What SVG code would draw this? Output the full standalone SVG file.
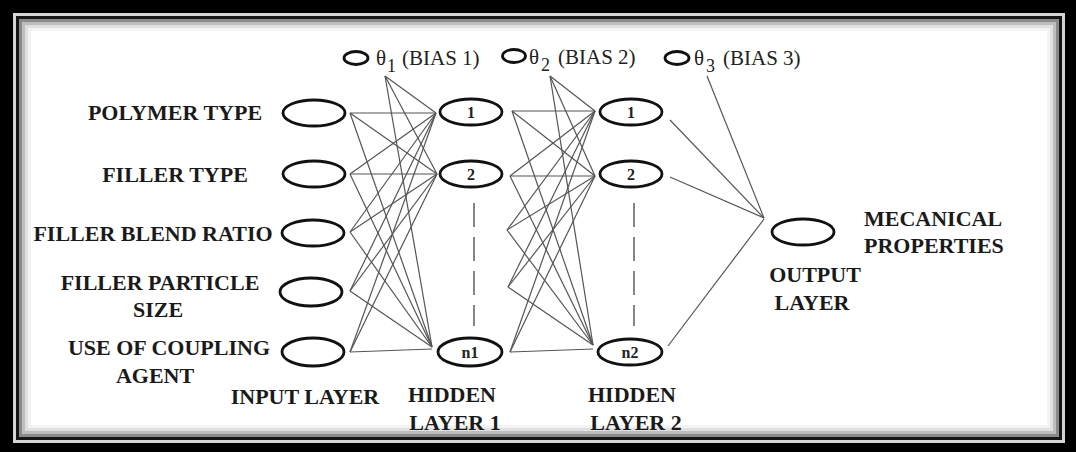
<svg xmlns="http://www.w3.org/2000/svg" width="1076" height="452" viewBox="0 0 1076 452">
<style>
.lbl{font-family:"Liberation Serif","Times New Roman",serif;font-weight:bold;font-size:22px;fill:#1a1a1a}
.bias{font-family:"Liberation Serif","Times New Roman",serif;font-size:21px;fill:#222}
.sub{font-family:"Liberation Serif","Times New Roman",serif;font-size:18px;fill:#222}
.num{font-family:"Liberation Serif","Times New Roman",serif;font-weight:bold;font-size:16px;fill:#222;text-anchor:middle}
.node{fill:none;stroke:#111;stroke-width:2.8}
.bnode{fill:none;stroke:#111;stroke-width:2.8}
.conn line{stroke:#555;stroke-width:1.2}
.dash{stroke:#444;stroke-width:1.3;stroke-dasharray:24 10}
</style>
<g id="frame">
<rect x="0" y="0" width="1076" height="452" fill="#000"/>
<rect x="13" y="13" width="1052" height="430" fill="#d4d4d4"/>
<rect x="16" y="16" width="1046" height="424" fill="#151515"/>
<rect x="19" y="19" width="1040" height="418" fill="#fff"/>
<rect x="20.5" y="20.5" width="1037" height="415" fill="none" stroke="#8a8a8a" stroke-width="3"/>
<rect x="23.5" y="23.5" width="1031" height="409" fill="none" stroke="#bdbdbd" stroke-width="3"/>
<rect x="26.5" y="26.5" width="1025" height="403" fill="none" stroke="#e0e0e0" stroke-width="3"/>
<rect x="29.5" y="29.5" width="1019" height="397" fill="none" stroke="#f3f3f3" stroke-width="3"/>
</g>
<g id="connectors" class="conn">
<!-- input to hidden 1 -->
<line x1="350" y1="113" x2="436" y2="113"/><line x1="350" y1="113" x2="437" y2="174"/><line x1="350" y1="113" x2="432" y2="347"/>
<line x1="350" y1="174" x2="436" y2="113"/><line x1="350" y1="174" x2="437" y2="174"/><line x1="350" y1="174" x2="432" y2="347"/>
<line x1="350" y1="232" x2="436" y2="113"/><line x1="350" y1="232" x2="437" y2="174"/><line x1="350" y1="232" x2="432" y2="347"/>
<line x1="350" y1="291" x2="436" y2="113"/><line x1="350" y1="291" x2="437" y2="174"/><line x1="350" y1="291" x2="432" y2="347"/>
<line x1="350" y1="352" x2="436" y2="113"/><line x1="350" y1="352" x2="437" y2="174"/><line x1="350" y1="352" x2="432" y2="349"/>
<!-- bias 1 -->
<line x1="385" y1="76" x2="436" y2="113"/><line x1="385" y1="76" x2="437" y2="174"/><line x1="385" y1="76" x2="432" y2="347"/>
<!-- hidden 1 to hidden 2 -->
<line x1="512" y1="111" x2="595" y2="111"/><line x1="512" y1="111" x2="595" y2="176"/><line x1="512" y1="111" x2="593" y2="345"/>
<line x1="510" y1="176" x2="595" y2="111"/><line x1="510" y1="176" x2="595" y2="176"/><line x1="510" y1="176" x2="593" y2="345"/>
<line x1="507" y1="230" x2="595" y2="111"/><line x1="507" y1="230" x2="595" y2="176"/><line x1="507" y1="230" x2="593" y2="345"/>
<line x1="508" y1="287" x2="595" y2="111"/><line x1="508" y1="287" x2="595" y2="176"/><line x1="508" y1="287" x2="593" y2="345"/>
<line x1="510" y1="352" x2="595" y2="111"/><line x1="510" y1="352" x2="595" y2="176"/><line x1="510" y1="352" x2="593" y2="349"/>
<!-- bias 2 -->
<line x1="550" y1="76" x2="595" y2="111"/><line x1="550" y1="76" x2="595" y2="176"/><line x1="550" y1="76" x2="593" y2="345"/>
<!-- hidden 2 to output -->
<line x1="670" y1="120" x2="764" y2="218"/><line x1="670" y1="177" x2="764" y2="218"/><line x1="668" y1="346" x2="764" y2="219"/>
<line x1="707" y1="76" x2="764" y2="218"/>
</g>
<g id="dashes">
<line class="dash" x1="474" y1="203" x2="474" y2="326"/>
<line class="dash" x1="634" y1="203" x2="634" y2="326"/>
</g>
<g id="bias1"><ellipse class="bnode" cx="356" cy="58" rx="12" ry="6.5"/><text class="bias" x="376" y="65">θ</text><text class="sub" x="387" y="72">1</text><text class="bias" x="402" y="65">(BIAS 1)</text></g>
<g id="bias2"><ellipse class="bnode" cx="514" cy="56" rx="11.5" ry="6.5"/><text class="bias" x="529" y="64">θ</text><text class="sub" x="541" y="71">2</text><text class="bias" x="558" y="64">(BIAS 2)</text></g>
<g id="bias3"><ellipse class="bnode" cx="677" cy="58" rx="12" ry="6.5"/><text class="bias" x="694" y="65">θ</text><text class="sub" x="706" y="72">3</text><text class="bias" x="723" y="65">(BIAS 3)</text></g>
<g id="in1"><ellipse class="node" cx="314" cy="113" rx="31" ry="13"/><text class="lbl" x="175" y="120" text-anchor="middle">POLYMER TYPE</text></g>
<g id="in2"><ellipse class="node" cx="314" cy="174" rx="31" ry="13"/><text class="lbl" x="175" y="182" text-anchor="middle">FILLER TYPE</text></g>
<g id="in3"><ellipse class="node" cx="313" cy="233" rx="31" ry="13"/><text class="lbl" x="153" y="241" text-anchor="middle">FILLER BLEND RATIO</text></g>
<g id="in4"><ellipse class="node" cx="311" cy="292" rx="31" ry="14"/><text class="lbl" x="160" y="290" text-anchor="middle">FILLER PARTICLE</text><text class="lbl" x="158" y="317" text-anchor="middle">SIZE</text></g>
<g id="in5"><ellipse class="node" cx="313" cy="352" rx="31" ry="14"/><text class="lbl" x="169" y="355" text-anchor="middle">USE OF COUPLING</text><text class="lbl" x="155" y="383" text-anchor="middle">AGENT</text></g>
<g id="h1n1"><ellipse class="node" cx="471" cy="112" rx="31" ry="13"/><text class="num" x="471" y="118">1</text></g>
<g id="h1n2"><ellipse class="node" cx="471" cy="174" rx="31" ry="13"/><text class="num" x="471" y="180">2</text></g>
<g id="h1nn"><ellipse class="node" cx="470" cy="352" rx="32" ry="14"/><text class="num" x="470" y="358">n1</text></g>
<g id="h2n1"><ellipse class="node" cx="631" cy="112" rx="31" ry="13"/><text class="num" x="631" y="118">1</text></g>
<g id="h2n2"><ellipse class="node" cx="631" cy="174" rx="31" ry="13"/><text class="num" x="631" y="180">2</text></g>
<g id="h2nn"><ellipse class="node" cx="630" cy="352" rx="32" ry="13"/><text class="num" x="630" y="358">n2</text></g>
<g id="out"><ellipse class="node" cx="803" cy="232" rx="31" ry="13"/><text class="lbl" x="864" y="226">MECANICAL</text><text class="lbl" x="864" y="253">PROPERTIES</text></g>
<g id="layerlabels">
<text class="lbl" x="305" y="404" text-anchor="middle">INPUT LAYER</text>
<text class="lbl" x="452" y="402" text-anchor="middle">HIDDEN</text>
<text class="lbl" x="455" y="430" text-anchor="middle">LAYER 1</text>
<text class="lbl" x="632" y="402" text-anchor="middle">HIDDEN</text>
<text class="lbl" x="636" y="430" text-anchor="middle">LAYER 2</text>
<text class="lbl" x="815" y="282" text-anchor="middle">OUTPUT</text>
<text class="lbl" x="812" y="310" text-anchor="middle">LAYER</text>
</g>
</svg>
